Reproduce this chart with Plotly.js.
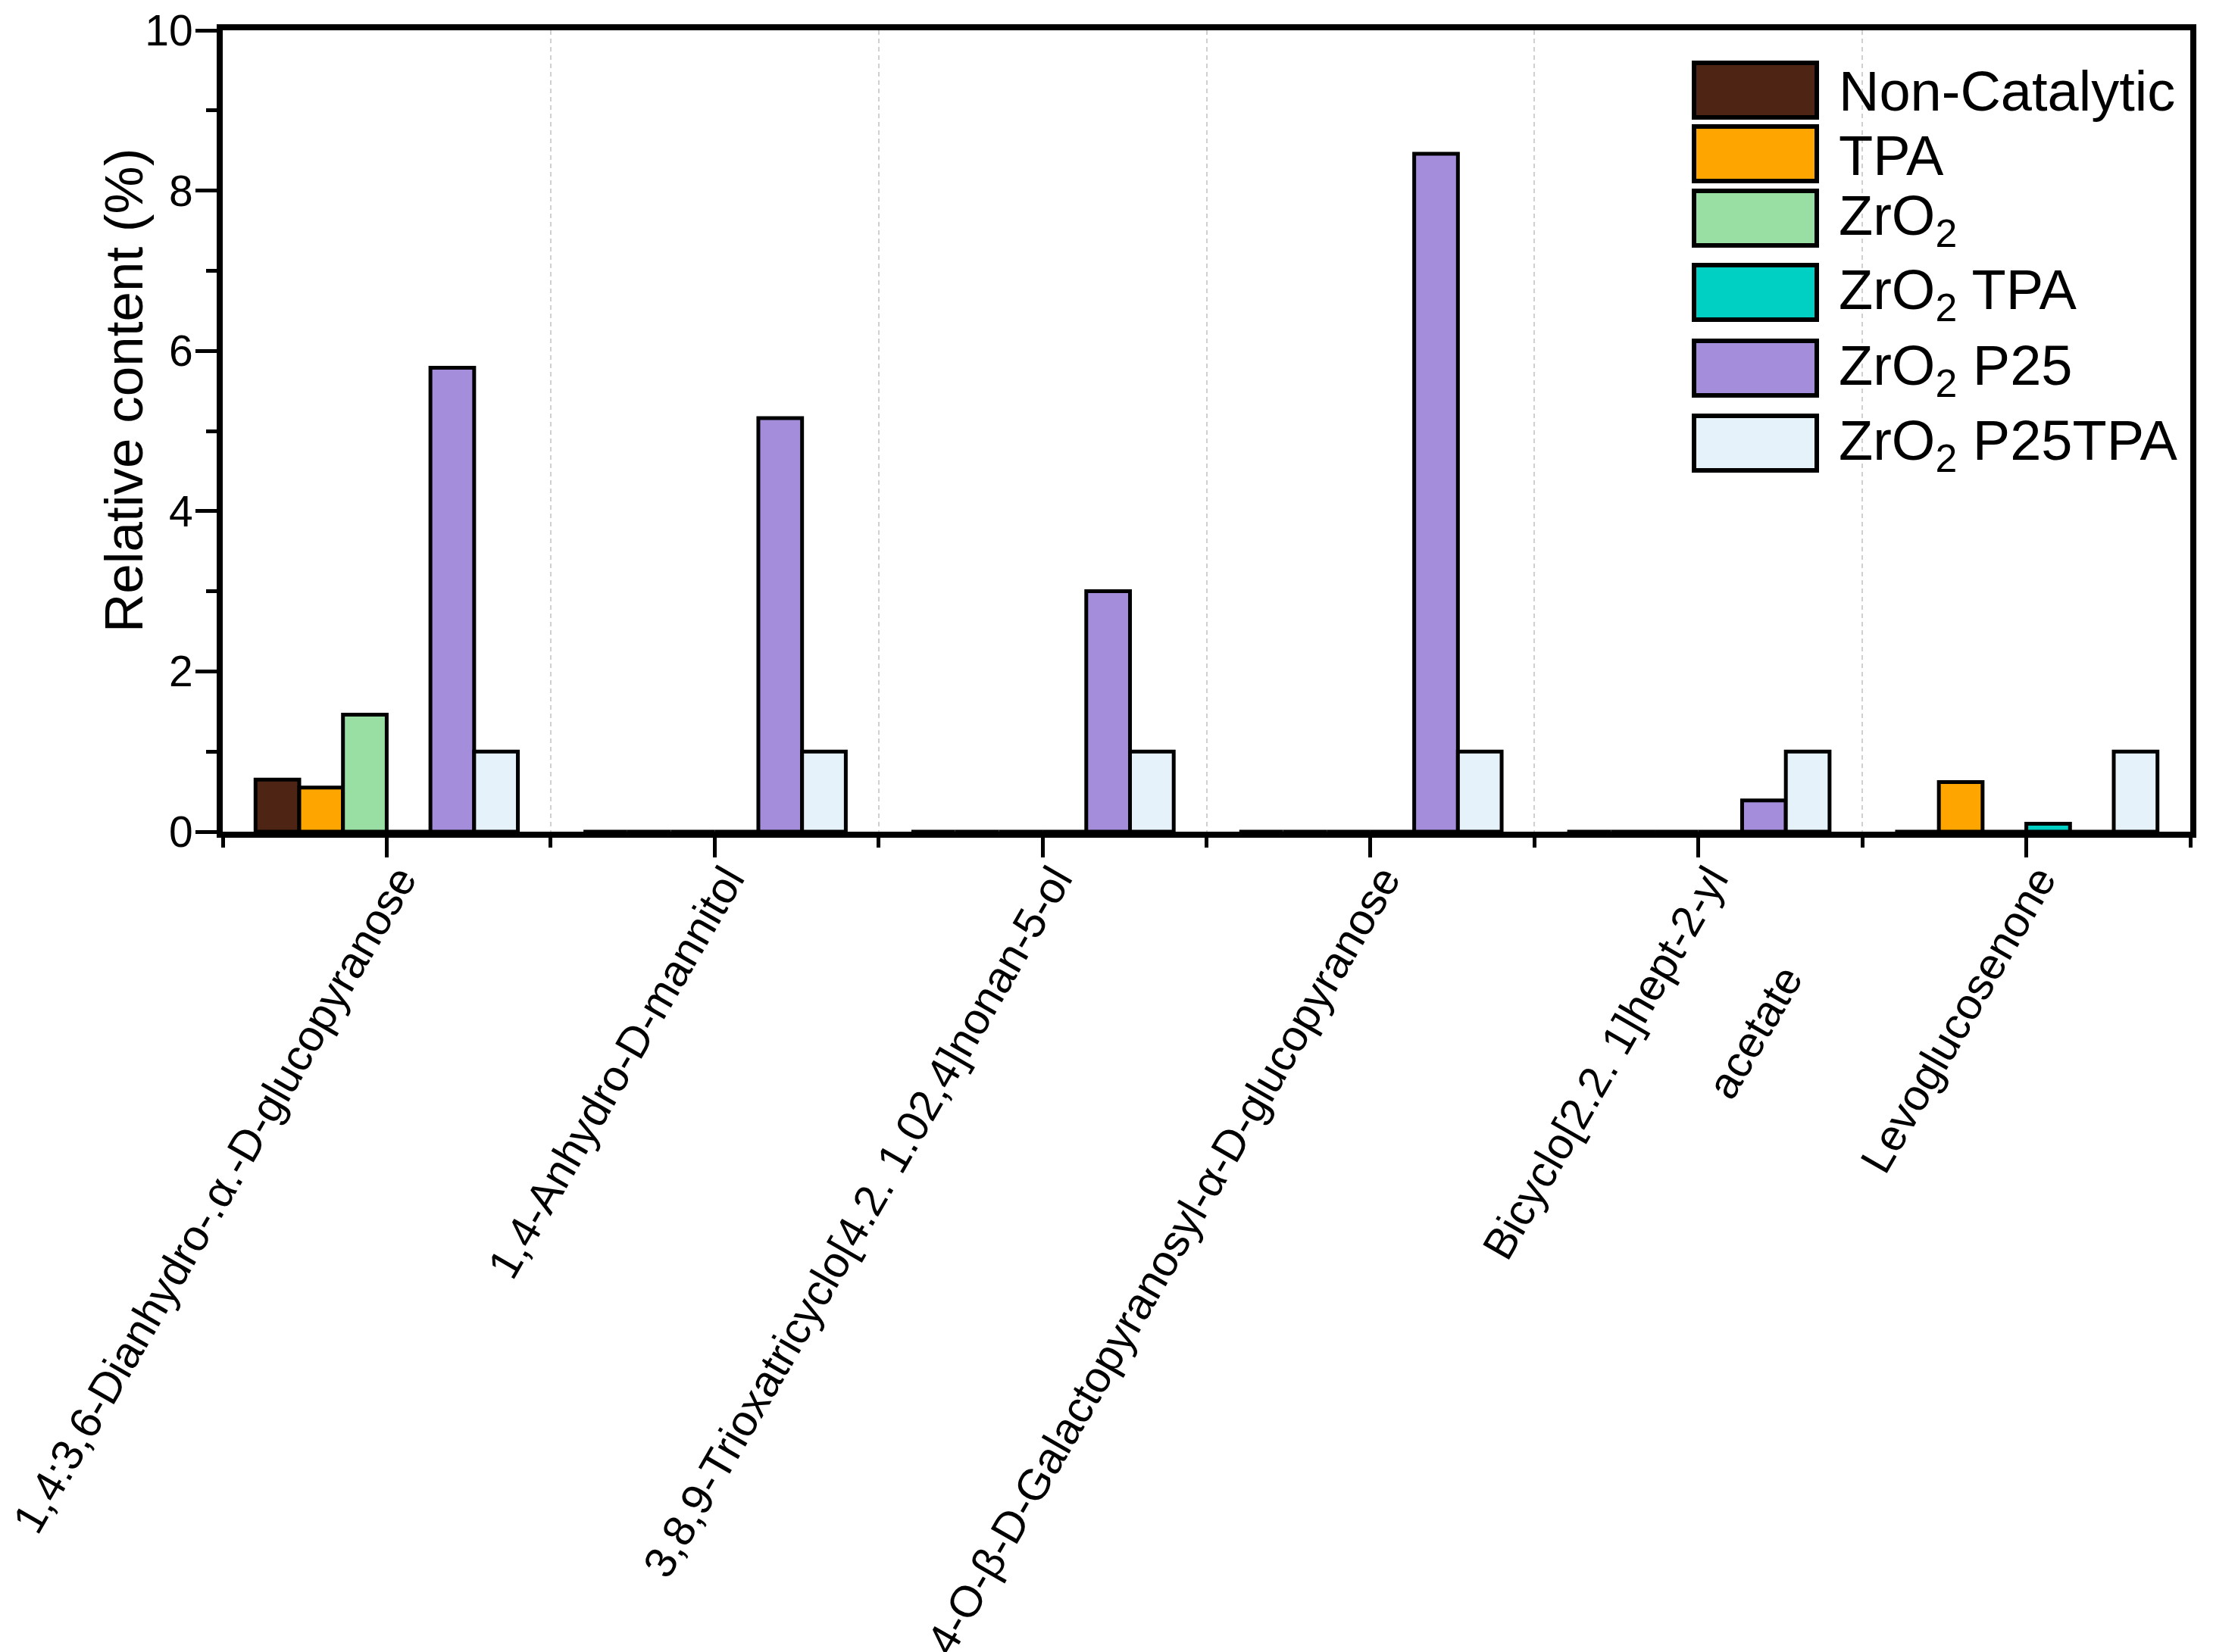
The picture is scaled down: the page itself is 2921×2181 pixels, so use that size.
<!DOCTYPE html>
<html><head><meta charset="utf-8">
<script src="https://cdn.plot.ly/plotly-3.0.1.min.js"></script>
<style>html,body{margin:0;padding:0;background:#fff}</style>
</head><body>
<div id="chart" style="width:2921px;height:2181px"></div>
<script>
const categories = [
  '1,4:3,6-Dianhydro-.α.-D-glucopyranose',
  '1,4-Anhydro-D-mannitol',
  '3,8,9-Trioxatricyclo[4.2. 1.02,4]nonan-5-ol',
  '4-O-β-D-Galactopyranosyl-α-D-glucopyranose',
  'Bicyclo[2.2. 1]hept-2-yl<br><br>acetate\u00A0\u00A0\u00A0\u00A0',
  'Levoglucosenone'
];
const yTitle = 'Relative content (%)';
const seriesNames = ['Non-Catalytic', 'TPA', 'ZrO<sub>2</sub>', 'ZrO<sub>2</sub> TPA', 'ZrO<sub>2</sub> P25', 'ZrO<sub>2</sub> P25TPA'];
const seriesColors = ['#4E2415', '#FFA500', '#99DEA3', '#00CFC4', '#A48DDA', '#E6F2FA'];
const nonCatalytic = [0.65, 0, 0, 0, 0, 0];
const tpa          = [0.55, 0, 0, 0, 0, 0.62];
const zrO2         = [1.46, 0, 0, 0, 0, 0];
const zrO2TPA      = [0, 0, 0, 0, 0, 0.10];
const zrO2P25      = [5.79, 5.16, 3.00, 8.46, 0.39, 0];
const zrO2P25TPA   = [1.0, 1.0, 1.0, 1.0, 1.0, 1.0];
const seriesValues = [nonCatalytic, tpa, zrO2, zrO2TPA, zrO2P25, zrO2P25TPA];

const idx = categories.map((c, i) => i);
const boundaries = idx.map(i => i - 0.5).concat([categories.length - 0.5]);

const traces = seriesValues.map((vals, s) => ({
  type: 'bar',
  x: idx,
  y: vals,
  name: seriesNames[s],
  marker: {color: seriesColors[s], line: {color: '#000', width: 5}},
  showlegend: false
}));

// plot area in pixels
const L = 294, R = 2891, T = 40, B = 1098;
const W = 2921, H = 2181;
const px2x = p => (p - L) / (R - L);
const px2y = p => (B - p) / (B - T);

const rowTops = [83, 167, 252, 350, 450, 549];
const swH = 72, swX0 = 2236, swX1 = 2398, txtX = 2425;
const shapes = [], annotations = [];
seriesNames.forEach((n, s) => {
  const top = rowTops[s];
  shapes.push({type: 'rect', xref: 'paper', yref: 'paper',
    x0: px2x(swX0), x1: px2x(swX1), y0: px2y(top + swH), y1: px2y(top),
    fillcolor: seriesColors[s], line: {color: '#000', width: 6}});
  annotations.push({xref: 'paper', yref: 'paper', x: px2x(txtX), y: px2y(top + swH / 2 + 2),
    xanchor: 'left', yanchor: 'middle', showarrow: false, text: n,
    font: {family: 'Arial, Liberation Sans, sans-serif', size: 74, color: '#000'}});
});
// y-axis title
annotations.push({xref: 'paper', yref: 'paper', x: px2x(163), y: px2y(516),
  xanchor: 'center', yanchor: 'middle', textangle: -90, showarrow: false, text: yTitle,
  font: {family: 'Arial, Liberation Sans, sans-serif', size: 71, color: '#000'}});

const layout = {
  width: W, height: H,
  margin: {l: L, r: W - R, t: T, b: H - B},
  paper_bgcolor: '#fff', plot_bgcolor: '#fff',
  font: {family: 'Arial, Liberation Sans, sans-serif', color: '#000'},
  barmode: 'group', bargap: 0.2, bargroupgap: 0,
  showlegend: false,
  xaxis: {
    type: 'linear', range: [-0.5, categories.length - 0.5],
    tickmode: 'array', tickvals: idx, ticktext: categories,
    tickangle: -60, tickfont: {size: 58, color: '#000'},
    ticklabeloverflow: 'allow', ticklabelshift: 16, ticklabelstandoff: -28,
    ticks: 'outside', ticklen: 26, tickwidth: 5, tickcolor: '#000',
    showline: true, linewidth: 8, linecolor: '#000', mirror: true,
    showgrid: false, zeroline: false,
    minor: {tickmode: 'array', tickvals: boundaries, ticks: 'outside', ticklen: 13, tickwidth: 5, tickcolor: '#000',
            showgrid: true, gridcolor: '#d0d0d0', gridwidth: 2, griddash: '6px,5px'}
  },
  yaxis: {
    range: [0, 10], dtick: 2, tick0: 0,
    tickfont: {size: 57, color: '#000'},
    ticklabelstandoff: -8,
    ticks: 'outside', ticklen: 28, tickwidth: 5, tickcolor: '#000',
    minor: {dtick: 1, ticks: 'outside', ticklen: 14, tickwidth: 5, tickcolor: '#000', showgrid: false},
    showline: true, linewidth: 8, linecolor: '#000', mirror: true,
    showgrid: false, zeroline: false
  },
  shapes: shapes,
  annotations: annotations
};

Plotly.newPlot('chart', traces, layout, {staticPlot: true, displayModeBar: false});
</script>
</body></html>
